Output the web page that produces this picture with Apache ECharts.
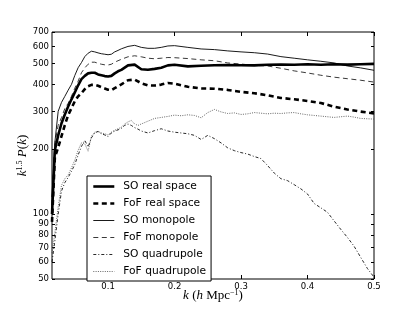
<!DOCTYPE html>
<html><head><meta charset="utf-8">
<script src="https://cdn.jsdelivr.net/npm/echarts@6/dist/echarts.min.js"></script>
<style>html,body{margin:0;padding:0;background:#fff}#c{width:415px;height:312px}</style>
</head><body><div id="c"></div>
<script>
const kMain = [0.0157,0.02,0.025,0.03,0.035,0.04,0.045,0.05,0.055,0.06,0.065,0.07,0.075,0.08,0.085,0.09,0.095,0.1,0.105,0.11,0.115,0.12,0.13,0.14,0.15,0.16,0.17,0.18,0.19,0.2,0.22,0.24,0.26,0.28,0.3,0.32,0.34,0.36,0.38,0.4,0.42,0.44,0.46,0.48,0.5];
const soReal  = [100,198,232,264,290,316,341,367,396,423,438,450,453,453,445,441,437,435,438,450,460,467,490,494,470,468,472,478,490,493,485,488,491,492,491,490,493,495,493,496,493,496,494,496,498];
const fofReal = [92,183,204,230,259,288,310,334,352,364,380,392,398,398,394,388,383,378,376,384,392,400,418,421,405,396,395,399,406,403,390,383,382,377,369,364,356,346,341,335,328,315,306,299,293];
const soMono  = [120,215,300,330,352,376,400,440,478,505,538,558,570,566,560,555,552,549,552,566,575,585,600,607,594,588,588,594,603,605,594,584,580,572,566,561,553,538,529,520,512,503,487,477,465];
const fofMono = [110,213,258,281,309,327,352,384,414,453,477,496,507,507,501,496,493,492,496,507,515,523,537,543,537,529,526,529,533,532,527,520,515,503,497,490,487,475,462,452,441,432,425,418,410];

const kQuad = [0.0157,0.02,0.025,0.03,0.035,0.04,0.045,0.05,0.055,0.06,0.065,0.07,0.075,0.08,0.085,0.09,0.095,0.1,0.105,0.11,0.115,0.12,0.125,0.13,0.135,0.14,0.145,0.15,0.16,0.17,0.18,0.19,0.2,0.21,0.22,0.23,0.24,0.25,0.26,0.27,0.28,0.29,0.3,0.31,0.32,0.33,0.34,0.35,0.36,0.37,0.38,0.39,0.4,0.41,0.42,0.43,0.44,0.45,0.46,0.47,0.48,0.49,0.5];
const soQuad  = [60,75,100,128,140,148,158,170,188,206,220,205,226,238,242,236,233,229,238,243,246,250,258,262,258,252,248,243,238,244,249,243,240,238,236,232,222,232,224,214,203,197,193,190,185,181,168,155,146,143,137,131,124,112,107,102,93,85,78,71,63,56,51];
const fofQuad = [66,82,108,136,146,152,164,178,198,214,212,196,230,240,242,238,236,233,240,245,249,253,262,268,272,262,258,262,270,278,281,284,288,286,289,287,280,296,306,298,293,295,290,292,296,294,292,294,293,295,296,292,289,287,285,283,281,283,285,282,278,277,276];

const xTicks = [0.1,0.2,0.3,0.4,0.5];
const yTicks = [50,60,70,80,90,100,200,300,400,500,600,700];
const names = ['SO real space','FoF real space','SO monopole','FoF monopole','SO quadrupole','FoF quadrupole'];

function pairs(k, v){ return k.map(function(x,i){ return [x, v[i]]; }); }

const chart = echarts.init(document.getElementById('c'), null, {renderer:'canvas'});
const sans = 'DejaVu Sans';
const serif = 'Liberation Serif';
const richName = {
  i:{fontFamily:serif,fontStyle:'italic',fontSize:13,color:'#000',lineHeight:14},
  n:{fontFamily:serif,fontSize:13,color:'#000',lineHeight:14},
  s:{fontFamily:serif,fontSize:8,color:'#000',lineHeight:8,verticalAlign:'top'}
};
const styles = [
  {w:2.6,t:'solid',c:'#000',z:6},
  {w:2.6,t:[5,3.5],c:'#000',z:5},
  {w:0.9,t:'solid',c:'#000',z:4},
  {w:0.9,t:[5,3.5],c:'#222',z:3},
  {w:0.9,t:[3,2,1,2],c:'#111',z:2},
  {w:0.9,t:[1,1.3],c:'#555',z:1}
];
const kArr = [kMain,kMain,kMain,kMain,kQuad,kQuad];
const vArr = [soReal,fofReal,soMono,fofMono,soQuad,fofQuad];
const series = names.map(function(n,i){
  const s = styles[i];
  return {name:n,type:'line',data:pairs(kArr[i],vArr[i]),showSymbol:false,symbol:'none',
    lineStyle:{width:s.w,type:s.t,color:s.c},itemStyle:{color:s.c},z:s.z,animation:false,silent:true};
});
const legendData = names.map(function(n,i){
  const s = styles[i];
  return {name:n,lineStyle:{width:s.w,type:s.t,color:s.c}};
});
chart.setOption({
  animation:false,
  backgroundColor:'#fff',
  grid:{left:52,top:32,width:322,height:247,show:true,borderColor:'#000',borderWidth:1,backgroundColor:'transparent'},
  legend:{
    orient:'vertical',left:87,top:176,
    data:legendData,
    itemWidth:21,itemHeight:10,itemGap:6,
    padding:[5,5,4,5],
    borderColor:'#000',borderWidth:1,backgroundColor:'#fff',borderRadius:0,
    itemStyle:{opacity:0,borderWidth:0},
    textStyle:{fontFamily:sans,fontSize:10.7,color:'#000',padding:[0,0,0,4]},
    selectedMode:false
  },
  xAxis:[{
    type:'value',min:0.0157,max:0.5,position:'bottom',
    name:'{i|k} {n|(}{i|h}{n| Mpc}{s|\u22121}{n|)}',
    nameLocation:'middle',nameGap:10,nameMoveOverlap:false,
    nameTextStyle:{rich:richName},
    axisLine:{show:false},
    axisTick:{show:true,inside:true,length:4,customValues:xTicks,lineStyle:{color:'#000'}},
    axisLabel:{show:true,customValues:xTicks,fontFamily:sans,fontSize:8.5,color:'#000',margin:3,
      formatter:function(v){return String(Math.round(v*10)/10);}},
    splitLine:{show:false}
  },{
    type:'value',min:0.0157,max:0.5,position:'top',
    axisLine:{show:false},
    axisTick:{show:true,inside:true,length:4,customValues:xTicks,lineStyle:{color:'#000'}},
    axisLabel:{show:false},splitLine:{show:false}
  }],
  yAxis:[{
    type:'log',logBase:10,min:50,max:700,position:'left',
    name:'{i|k}{s|1.5} {i|P}{n|(}{i|k}{n|)}',
    nameLocation:'middle',nameGap:22,nameRotate:90,nameMoveOverlap:false,
    nameTextStyle:{rich:richName},
    axisLine:{show:false},
    axisTick:{show:true,inside:true,length:3,customValues:yTicks,lineStyle:{color:'#000'}},
    axisLabel:{show:true,customValues:yTicks,fontFamily:sans,fontSize:8.5,color:'#000',margin:3,
      formatter:function(v){return String(Math.round(v));}},
    splitLine:{show:false}
  },{
    type:'log',logBase:10,min:50,max:700,position:'right',
    axisLine:{show:false},
    axisTick:{show:true,inside:true,length:3,customValues:yTicks,lineStyle:{color:'#000'}},
    axisLabel:{show:false},splitLine:{show:false}
  }],
  series:series
});
</script></body></html>
